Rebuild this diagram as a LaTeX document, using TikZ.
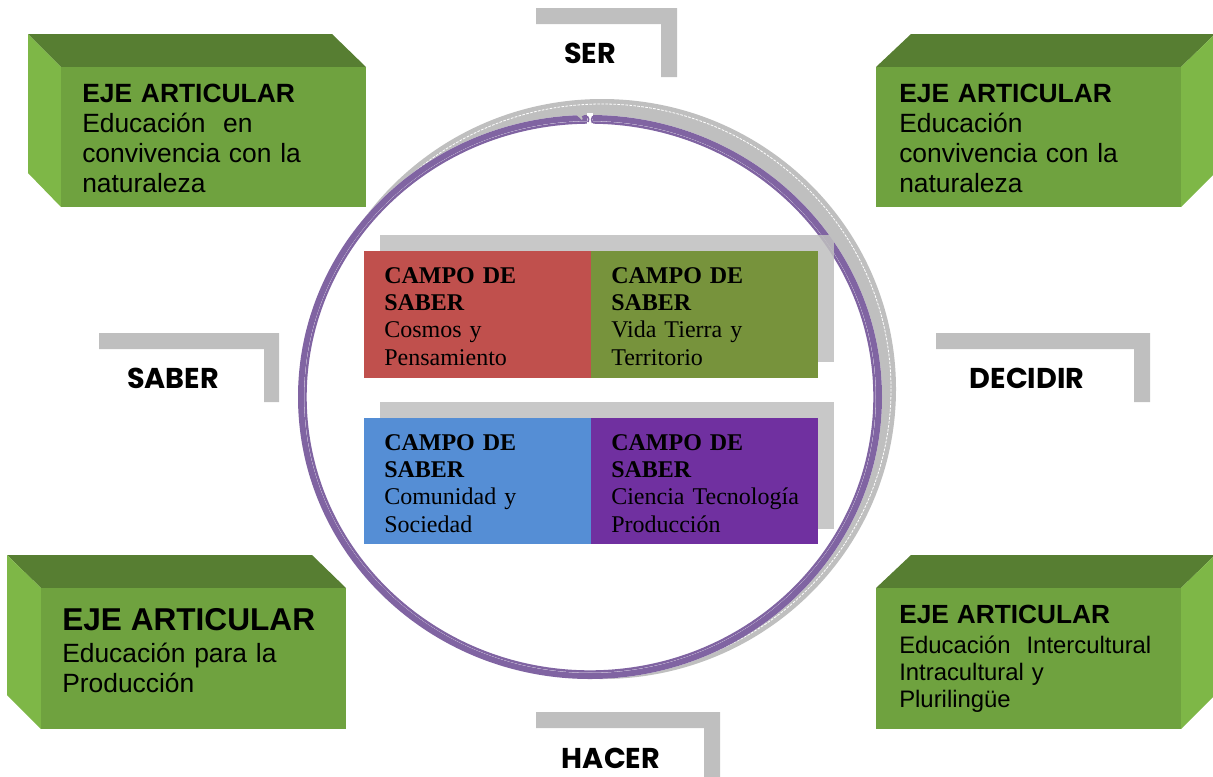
\documentclass[tikz,border=0pt]{standalone}
\usepackage{fontspec}
\setmainfont{Liberation Sans}
\newfontfamily\timesf{Liberation Serif}
\newfontfamily\popf{Poppins}
\definecolor{efront}{HTML}{6FA23F}
\definecolor{etop}{HTML}{577E32}
\definecolor{eside}{HTML}{7EB747}
\definecolor{shgray}{HTML}{BFBFBF}
\definecolor{ringc}{HTML}{8064A2}
\definecolor{cred}{HTML}{C0504D}
\definecolor{cgreen}{HTML}{77933C}
\definecolor{cblue}{HTML}{558ED5}
\definecolor{cpurple}{HTML}{7030A0}
\begin{document}
\begin{tikzpicture}[x=0.75pt,y=-0.75pt,
  ejetext/.style={anchor=base west,inner sep=0pt,text width=220pt,align=left,
    font=\fontsize{19.8}{22.5}\selectfont},
  campotext/.style={anchor=base west,inner sep=0pt,text width=165pt,align=left,
    font=\timesf\fontsize{18}{20.5}\selectfont},
  dimlabel/.style={anchor=base,inner sep=0pt,font=\popf\bfseries\fontsize{21.5}{24}\selectfont},
  lbar/.style={fill=shgray}
]
\useasboundingbox (0,0) rectangle (1213,776);

% ---------- 3D boxes ----------
% top-left
\fill[etop] (61,67) -- (28,34) -- (332,34) -- (366,67) -- cycle;
\fill[eside] (28,34) -- (61,67) -- (61,207) -- (28,173) -- cycle;
\fill[efront] (61,67) rectangle (366,207);
% top-right
\fill[etop] (876,67) -- (911,34) -- (1215,34) -- (1181,67) -- cycle;
\fill[eside] (1181,67) -- (1215,34) -- (1215,173) -- (1181,207) -- cycle;
\fill[efront] (876,67) rectangle (1181,207);
% bottom-left
\fill[etop] (41,588) -- (7,555) -- (312,555) -- (346,588) -- cycle;
\fill[eside] (7,555) -- (41,588) -- (41,729) -- (7,695) -- cycle;
\fill[efront] (41,588) rectangle (346,729);
% bottom-right
\fill[etop] (876,588) -- (911,555) -- (1215,555) -- (1181,588) -- cycle;
\fill[eside] (1181,588) -- (1215,555) -- (1215,695) -- (1181,729) -- cycle;
\fill[efront] (876,588) rectangle (1181,729);

\node[ejetext] (ejeTL) at (82,102) {\textbf{EJE ARTICULAR}\\Educación\ \ en\\convivencia con la\\naturaleza};
\node[ejetext] (ejeTR) at (899,102) {\textbf{EJE ARTICULAR}\\Educación\\convivencia con la\\naturaleza};
\node[ejetext] (ejeBL) at (62,630) {{\fontsize{23.7}{24}\selectfont\textbf{EJE ARTICULAR}}\\[1.5pt]Educación para la\\Producción};
\node[ejetext,font=\fontsize{17.9}{20.25}\selectfont] (ejeBR) at (899,623) {{\fontsize{19.7}{20}\selectfont\textbf{EJE ARTICULAR}}\\[2.25pt]Educación\ \ Intercultural\\Intracultural y\\Plurilingüe};

% ---------- L-shaped bars and labels ----------
\fill[lbar] (536,8) -- (677,8) -- (677,77) -- (661,77) -- (661,24) -- (536,24) -- cycle;
\fill[lbar] (99,333) -- (279,333) -- (279,402) -- (264,402) -- (264,349) -- (99,349) -- cycle;
\fill[lbar] (936,333) -- (1150,333) -- (1150,402) -- (1134,402) -- (1134,349) -- (936,349) -- cycle;
\fill[lbar] (536,712) -- (720,712) -- (720,780) -- (704,780) -- (704,728) -- (536,728) -- cycle;
\node[dimlabel] (ser) at (590,63) {SER};
\node[dimlabel] (saber) at (173,388) {SABER};
\node[dimlabel] (decidir) at (1027,388) {DECIDIR};
\node[dimlabel] (hacer) at (611,768) {HACER};

% ---------- ring ----------
\fill[shgray] (602,389) ellipse [x radius=294, y radius=290];
\draw[white,line width=0.6pt,dash pattern=on 2pt off 1pt] (602,389) ellipse [x radius=289, y radius=285];
\fill[white] (590,397) ellipse [x radius=292, y radius=282];
\draw[ringc,line width=4.5pt] (590,397) ellipse [x radius=289, y radius=279];
\draw[ringc,line width=1.8pt] (590,397) ellipse [x radius=284.5, y radius=274.5];
% joint of the circular arrow
\fill[white] (587,113) rectangle (593,125);
\fill[shgray] (576,114.5) -- (584,114.5) -- (582,120) -- cycle;
\draw[ringc,line width=1.2pt] (582,117) .. controls (587,114) and (590,118) .. (588,122);
\draw[ringc,line width=1.2pt] (598,117) .. controls (593,114) and (590,118) .. (592.5,123);

% ---------- campo boxes ----------
\fill[shgray,opacity=0.85] (380,235) rectangle (834,362);
\fill[shgray,opacity=0.85] (380,402) rectangle (834,529);
\fill[cred] (364,251) rectangle (591,378);
\fill[cgreen] (591,251) rectangle (818,378);
\fill[cblue] (364,418) rectangle (591,544);
\fill[cpurple] (591,418) rectangle (818,544);
\node[campotext] (c1) at (384,283) {\textbf{CAMPO DE}\\\textbf{SABER}\\Cosmos y\\Pensamiento};
\node[campotext] (c2) at (611,283) {\textbf{CAMPO DE}\\\textbf{SABER}\\Vida Tierra y\\Territorio};
\node[campotext] (c3) at (384,450) {\textbf{CAMPO DE}\\\textbf{SABER}\\Comunidad y\\Sociedad};
\node[campotext] (c4) at (611,450) {\textbf{CAMPO DE}\\\textbf{SABER}\\Ciencia Tecnología\\Producción};
\end{tikzpicture}
\end{document}
